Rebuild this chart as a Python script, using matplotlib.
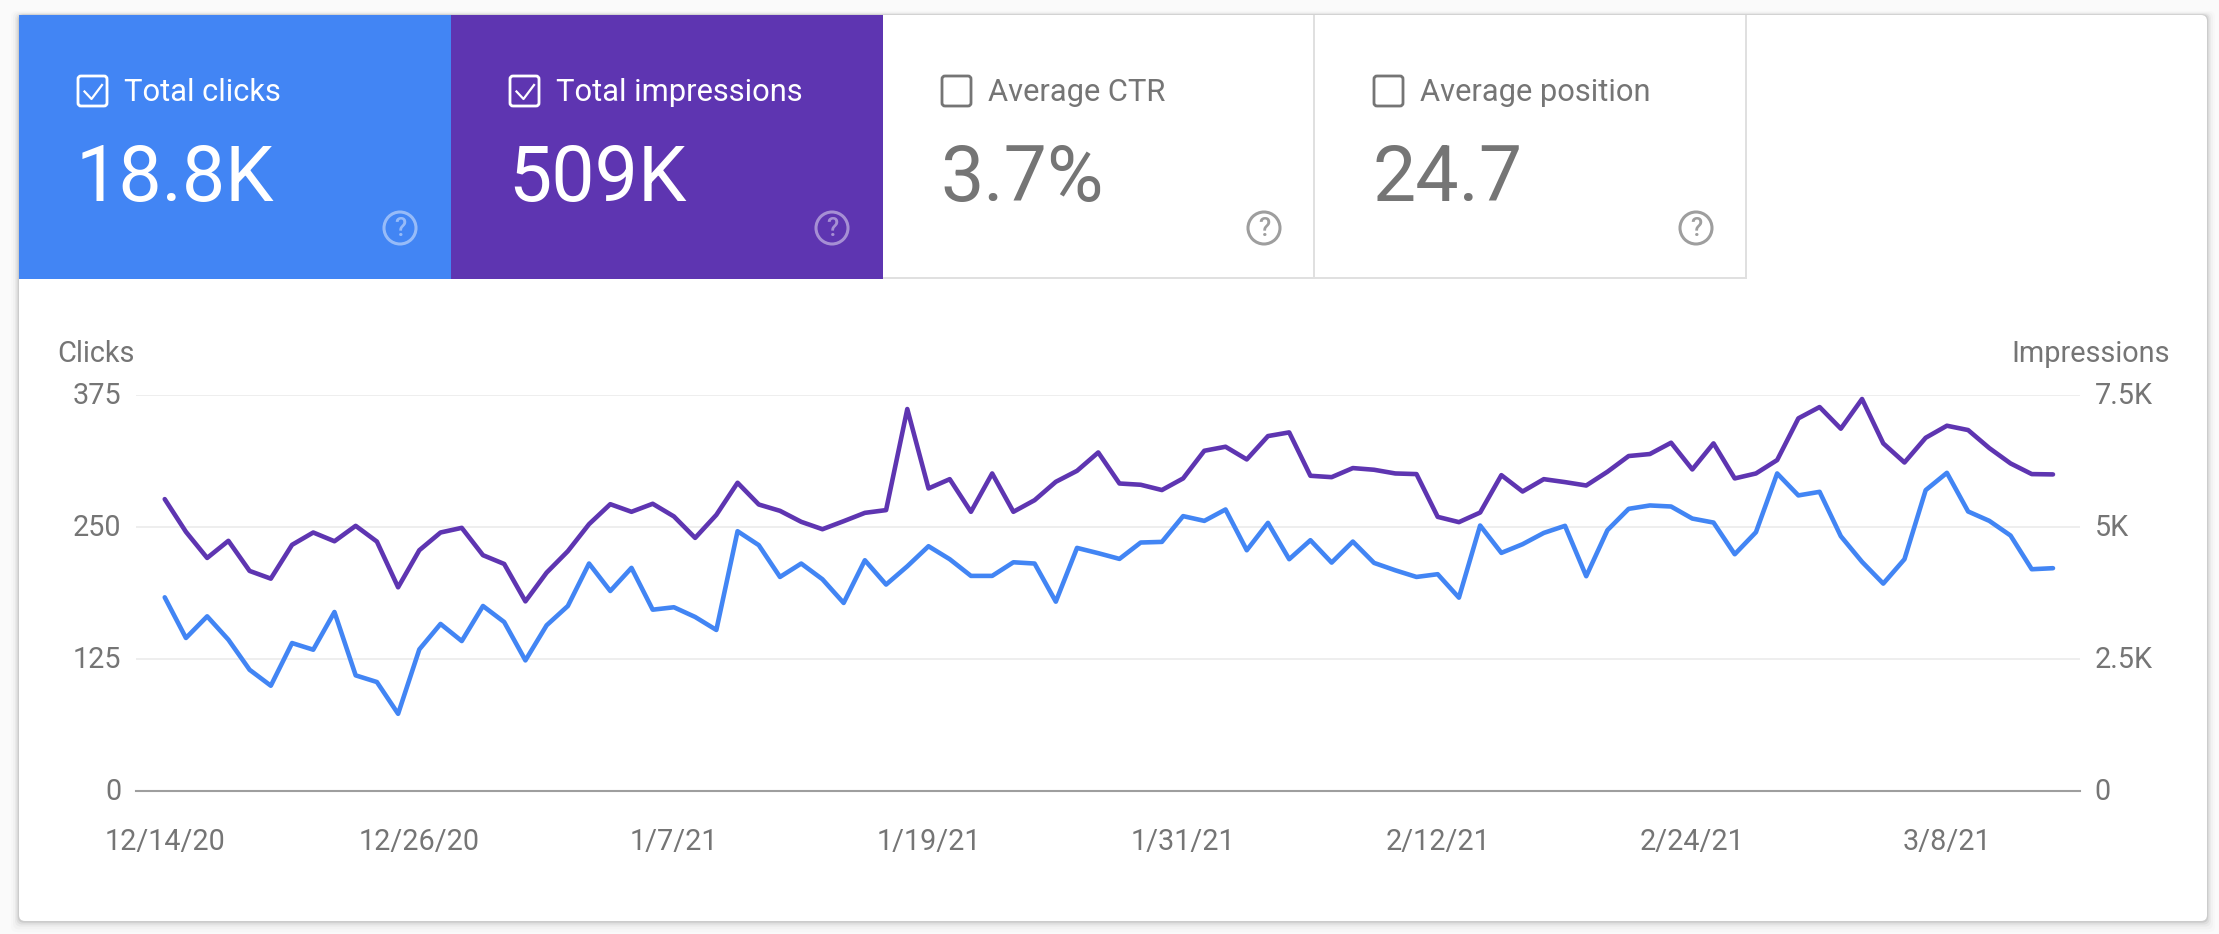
import pandas as pd
import matplotlib
matplotlib.use("Agg")
import matplotlib.pyplot as plt
from matplotlib.patches import Rectangle, FancyBboxPatch, Circle
from matplotlib.transforms import ScaledTranslation

# Datos
clicks = [183.4, 144.9, 165.4, 143.3, 114.8, 99.7, 140.1, 133.8, 169.5, 109.5,
          103.2, 73.1, 134.1, 158.2, 142, 175.2, 160, 123.7, 156.9, 175.2,
          215.4, 189.4, 211.3, 171.7, 174, 164.8, 152.5, 246, 232.8, 202.7,
          215.4, 200.5, 178.1, 218.5, 195.5, 212.8, 231.8, 219.5, 203.7, 203.7,
          216.6, 215.4, 179.3, 230.2, 225.2, 219.8, 235.3, 235.9, 260.3, 255.8,
          266.6, 228, 253.9, 219.5, 237.5, 216.3, 236.2, 216, 209, 202.7,
          205.3, 183.1, 251.4, 225.5, 233.7, 244.4, 251.1, 203.4, 247, 267.2,
          270.4, 269.4, 258, 254.2, 224.2, 245.1, 300.7, 279.9, 283.3, 241.3,
          217, 196.4, 219.5, 284.9, 301.3, 264.7, 255.8, 241.9, 210, 211]
impressions = [5528, 4908, 4414, 4738, 4168, 4022, 4662, 4896, 4730, 5022,
               4724, 3858, 4560, 4896, 4984, 4466, 4300, 3592, 4136, 4542,
               5054, 5432, 5288, 5440, 5200, 4794, 5230, 5838, 5426, 5306,
               5098, 4958, 5110, 5268, 5320, 7234, 5730, 5906, 5288, 6014,
               5288, 5508, 5856, 6064, 6412, 5824, 5800, 5700, 5920, 6444,
               6520, 6280, 6722, 6792, 5970, 5944, 6116, 6084, 6014, 6002,
               5192, 5092, 5274, 5982, 5672, 5906, 5850, 5786, 6046, 6344,
               6382, 6596, 6090, 6584, 5920, 6014, 6268, 7058, 7272, 6862,
               7424, 6584, 6222, 6690, 6918, 6836, 6494, 6204, 6002, 5996]
click_ticks = [0, 125, 250, 375]
impression_ticks = [0, 2500, 5000, 7500]
impression_tick_labels = ["0", "2.5K", "5K", "7.5K"]
date_tick_labels = ["12/14/20", "12/26/20", "1/7/21", "1/19/21", "1/31/21",
                    "2/12/21", "2/24/21", "3/8/21"]
tile_names = ["Total clicks", "Total impressions", "Average CTR", "Average position"]
tile_values = ["18.8K", "509K", "3.7%", "24.7"]

BLUE = "#4285f4"
PURPLE = "#5e35b1"
GRAY = "#757575"
GRID = "#eeeeee"

plt.rcParams["font.family"] = ["Roboto", "DejaVu Sans"]

W, H = 2219, 934
fig = plt.figure(figsize=(W / 100, H / 100), dpi=100, facecolor="#fafafa")

# Capa de fondo en pixeles: tarjeta y recuadros
bg = fig.add_axes([0, 0, 1, 1], zorder=0)
bg.set_xlim(0, W)
bg.set_ylim(H, 0)
bg.axis("off")


def card(x0, y0, x1, y1, color, alpha=1.0, z=1):
    bg.add_patch(FancyBboxPatch((x0 + 6, y0 + 6), x1 - x0 - 12, y1 - y0 - 12,
                                boxstyle="round,pad=6,rounding_size=6",
                                fc=color, ec="none", alpha=alpha, zorder=z))


# Sombra, mas marcada abajo
for off, a in [(8, 0.012), (6, 0.02), (4, 0.03), (2.5, 0.05), (1.2, 0.08)]:
    card(19 - off, 15 - off / 2, 2207 + off, 921 + off * 1.4, "#000000", a)
card(19, 15, 2207, 921, "white", z=2)

tile_w = 432
for i in range(4):
    x0 = 19 + tile_w * i
    active = i < 2
    if active:
        bg.add_patch(Rectangle((x0, 15), tile_w, 264, fc=[BLUE, PURPLE][i], ec="none", zorder=3))
    else:
        bg.plot([x0 + tile_w - 1] * 2, [15, 279], color="#e0e0e0", lw=1.4,
                solid_capstyle="butt", zorder=3)
        bg.plot([x0, x0 + tile_w], [278, 278], color="#e0e0e0", lw=1.4,
                solid_capstyle="butt", zorder=3)
    fg = "white" if active else GRAY
    # casilla
    bg.add_patch(FancyBboxPatch((x0 + 62, 79), 23, 24, boxstyle="round,pad=3,rounding_size=3",
                                fc="none", ec=fg, lw=2.0, zorder=4))
    if active:
        bg.plot([x0 + 65.5, x0 + 72.5, x0 + 83], [91.5, 99, 85], color="white", lw=1.6, zorder=4)
    bg.text(x0 + 105, 101, tile_names[i], color=fg, fontsize=22.2, va="baseline", zorder=4)
    bg.text(x0 + 57, 201, tile_values[i], color=fg, fontsize=55.5, va="baseline", zorder=4)
    # icono de ayuda
    help_col = "white" if active else "#9e9e9e"
    help_alpha = 0.45 if active else 1.0
    bg.add_patch(Circle((x0 + 381, 228), 16, fc="none", ec=help_col, lw=2.2,
                        alpha=help_alpha, zorder=4))
    bg.text(x0 + 381, 229, "?", color=help_col, alpha=help_alpha, fontsize=18,
            fontweight="medium", ha="center", va="center", zorder=4)

# Grafico
dates = pd.date_range("2020-12-14", periods=len(clicks))
tick_dates = dates[::12]
day = pd.Timedelta(days=1)

ax = fig.add_axes([136 / W, (H - 791) / H, (2079.5 - 136) / W, 396 / H], zorder=2)
ax.patch.set_visible(False)
ax2 = ax.twinx()
ax2.patch.set_visible(False)

ax.plot(dates, clicks, color=BLUE, lw=3.3, solid_joinstyle="round", solid_capstyle="round", zorder=3)
ax2.plot(dates, impressions, color=PURPLE, lw=3.3, solid_joinstyle="round", solid_capstyle="round", zorder=3)

ax.set_xlim(dates[0] - 1.354 * day, dates[-1] + 1.25 * day)
ax.set_ylim(0, 375)
ax2.set_ylim(0, 7500)

ax.set_yticks(click_ticks)
ax2.set_yticks(impression_ticks)
ax2.set_yticklabels(impression_tick_labels)
ax.set_xticks(tick_dates)
ax.set_xticklabels(date_tick_labels)

ax.grid(True, axis="y", color=GRID, lw=1.4)
ax.set_axisbelow(True)
for a in (ax, ax2):
    for s in ("top", "left", "right"):
        a.spines[s].set_visible(False)
ax2.spines["bottom"].set_visible(False)
ax.spines["bottom"].set_color("#9e9e9e")
ax.spines["bottom"].set_linewidth(1.5)
ax.spines["bottom"].set_zorder(1)

ax.tick_params(axis="y", length=0, pad=10.5, labelsize=20.7, labelcolor=GRAY)
ax.tick_params(axis="x", length=0, pad=26.5, labelsize=20.7, labelcolor=GRAY)
ax2.tick_params(axis="y", length=0, pad=11, labelsize=20.7, labelcolor=GRAY)

# Subir un poco las etiquetas del eje y
nudge = ScaledTranslation(0, 1.2 / 72, fig.dpi_scale_trans)
for lab in ax.get_yticklabels() + ax2.get_yticklabels():
    lab.set_transform(lab.get_transform() + nudge)

bg.text(57, 362, "Clicks", color=GRAY, fontsize=20.8, va="baseline", zorder=4)
bg.text(2169.5, 362, "Impressions", color=GRAY, fontsize=20.8, ha="right", va="baseline", zorder=4)

fig.savefig("out.png", dpi=100, facecolor=fig.get_facecolor())
